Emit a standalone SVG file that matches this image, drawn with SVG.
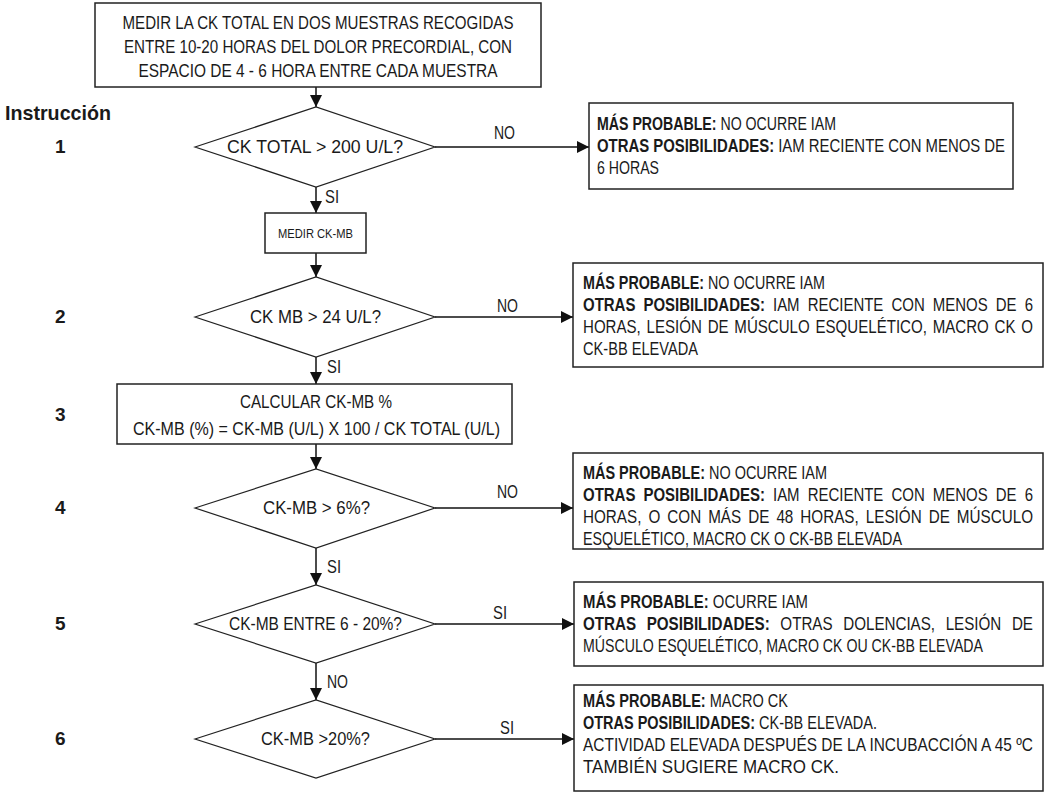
<svg xmlns="http://www.w3.org/2000/svg" width="1049" height="793" viewBox="0 0 1049 793">
<style>
.t{font-family:"Liberation Sans Narrow","Liberation Sans",Arial,sans-serif;font-size:19px;fill:#1a1a1a}
.c{text-anchor:middle}
.b{font-weight:bold}
.sm{font-size:13.5px}
.box{fill:#fff;stroke:#222;stroke-width:1.5}
.dia{fill:#fff;stroke:#222;stroke-width:1.2}
.ln{stroke:#111;stroke-width:1.5;fill:none}
</style>
<defs>
<marker id="ah" markerUnits="userSpaceOnUse" markerWidth="13" markerHeight="13" viewBox="0 0 13 13" refX="12" refY="6.5" orient="auto">
<path d="M0,0.5 L12,6.5 L0,12.5 z" fill="#111"/>
</marker>
</defs>
<rect width="1049" height="793" fill="#fff"/>

<g id="connectors">
<path class="ln" d="M316,87 V107" marker-end="url(#ah)"/>
<path class="ln" d="M316,187 V213" marker-end="url(#ah)"/>
<path class="ln" d="M316,253 V277" marker-end="url(#ah)"/>
<path class="ln" d="M316,357 V384" marker-end="url(#ah)"/>
<path class="ln" d="M316,444 V469" marker-end="url(#ah)"/>
<path class="ln" d="M316,548 V585" marker-end="url(#ah)"/>
<path class="ln" d="M316,663 V700" marker-end="url(#ah)"/>
<path class="ln" d="M435,147 H589" marker-end="url(#ah)"/>
<path class="ln" d="M435,317 H573" marker-end="url(#ah)"/>
<path class="ln" d="M435,508 H573" marker-end="url(#ah)"/>
<path class="ln" d="M435,624 H574" marker-end="url(#ah)"/>
<path class="ln" d="M435,739 H574" marker-end="url(#ah)"/>
<text class="t" x="325" y="203" textLength="14" lengthAdjust="spacingAndGlyphs">SI</text>
<text class="t" x="327" y="373" textLength="14" lengthAdjust="spacingAndGlyphs">SI</text>
<text class="t" x="327" y="573" textLength="14" lengthAdjust="spacingAndGlyphs">SI</text>
<text class="t" x="327" y="688" textLength="21" lengthAdjust="spacingAndGlyphs">NO</text>
<text class="t" x="494" y="139" textLength="21" lengthAdjust="spacingAndGlyphs">NO</text>
<text class="t" x="497" y="312" textLength="21" lengthAdjust="spacingAndGlyphs">NO</text>
<text class="t" x="497" y="498" textLength="21" lengthAdjust="spacingAndGlyphs">NO</text>
<text class="t" x="493" y="619" textLength="14" lengthAdjust="spacingAndGlyphs">SI</text>
<text class="t" x="500" y="734" textLength="14" lengthAdjust="spacingAndGlyphs">SI</text>
</g>

<g id="labels">
<text class="t b" x="5" y="120" style="font-size:21px" textLength="106" lengthAdjust="spacingAndGlyphs">Instrucción</text>
<text class="t b" x="55" y="153">1</text>
<text class="t b" x="55" y="323">2</text>
<text class="t b" x="55" y="421">3</text>
<text class="t b" x="55" y="514">4</text>
<text class="t b" x="55" y="630">5</text>
<text class="t b" x="55" y="745">6</text>
</g>

<g id="start">
<rect class="box" x="95" y="3" width="446" height="84"/>
<text class="t c" x="318" y="29" textLength="391" lengthAdjust="spacingAndGlyphs">MEDIR LA CK TOTAL EN DOS MUESTRAS RECOGIDAS</text>
<text class="t c" x="318" y="53" textLength="388" lengthAdjust="spacingAndGlyphs">ENTRE 10-20 HORAS DEL DOLOR PRECORDIAL, CON</text>
<text class="t c" x="318" y="77" textLength="359" lengthAdjust="spacingAndGlyphs">ESPACIO DE 4 - 6 HORA ENTRE CADA MUESTRA</text>
</g>

<g id="q1">
<polygon class="dia" points="195,147 316,107 435,147 316,187"/>
<text class="t c" x="315" y="153" textLength="176" lengthAdjust="spacingAndGlyphs">CK TOTAL &gt; 200 U/L?</text>
</g>

<g id="r1">
<rect class="box" x="589" y="103" width="424" height="86"/>
<text class="t" x="597" y="130" textLength="239" lengthAdjust="spacingAndGlyphs"><tspan class="b">MÁS PROBABLE:</tspan> NO OCURRE IAM</text>
<text class="t" x="597" y="152" textLength="408" lengthAdjust="spacingAndGlyphs"><tspan class="b">OTRAS POSIBILIDADES:</tspan> IAM RECIENTE CON MENOS DE</text>
<text class="t" x="597" y="174" textLength="62" lengthAdjust="spacingAndGlyphs">6 HORAS</text>
</g>

<g id="medir">
<rect class="box" x="265" y="213" width="101" height="40"/>
<text class="t c sm" x="315.5" y="238" textLength="75" lengthAdjust="spacingAndGlyphs">MEDIR CK-MB</text>
</g>

<g id="q2">
<polygon class="dia" points="195,317 316,277 435,317 316,357"/>
<text class="t c" x="315.5" y="323" textLength="131" lengthAdjust="spacingAndGlyphs">CK MB &gt; 24 U/L?</text>
</g>

<g id="r2">
<rect class="box" x="573" y="263" width="470" height="104"/>
<text class="t" x="583" y="289" textLength="242" lengthAdjust="spacingAndGlyphs"><tspan class="b">MÁS PROBABLE:</tspan> NO OCURRE IAM</text>
<text class="t" x="583" y="311" textLength="450" lengthAdjust="spacingAndGlyphs" word-spacing="5"><tspan class="b">OTRAS POSIBILIDADES:</tspan> IAM RECIENTE CON MENOS DE 6</text>
<text class="t" x="583" y="333" textLength="450" lengthAdjust="spacingAndGlyphs" word-spacing="2">HORAS, LESIÓN DE MÚSCULO ESQUELÉTICO, MACRO CK O</text>
<text class="t" x="583" y="355" textLength="115" lengthAdjust="spacingAndGlyphs">CK-BB ELEVADA</text>
</g>

<g id="calc">
<rect class="box" x="117" y="384" width="395" height="60"/>
<text class="t c" x="316" y="408" textLength="152" lengthAdjust="spacingAndGlyphs">CALCULAR CK-MB %</text>
<text class="t c" x="316.5" y="435" textLength="367" lengthAdjust="spacingAndGlyphs">CK-MB (%) = CK-MB (U/L) X 100 / CK TOTAL (U/L)</text>
</g>

<g id="q4">
<polygon class="dia" points="195,508 316,469 435,508 316,548"/>
<text class="t c" x="316.5" y="514" textLength="107" lengthAdjust="spacingAndGlyphs">CK-MB &gt; 6%?</text>
</g>

<g id="r4">
<rect class="box" x="573" y="453" width="470" height="96"/>
<text class="t" x="583" y="479" textLength="244" lengthAdjust="spacingAndGlyphs"><tspan class="b">MÁS PROBABLE:</tspan> NO OCURRE IAM</text>
<text class="t" x="583" y="501" textLength="450" lengthAdjust="spacingAndGlyphs" word-spacing="5"><tspan class="b">OTRAS POSIBILIDADES:</tspan> IAM RECIENTE CON MENOS DE 6</text>
<text class="t" x="583" y="523" textLength="450" lengthAdjust="spacingAndGlyphs" word-spacing="3.5">HORAS, O CON MÁS DE 48 HORAS, LESIÓN DE MÚSCULO</text>
<text class="t" x="583" y="545" textLength="319" lengthAdjust="spacingAndGlyphs">ESQUELÉTICO, MACRO CK O CK-BB ELEVADA</text>
</g>

<g id="q5">
<polygon class="dia" points="195,624 316,585 435,624 316,663"/>
<text class="t c" x="315.5" y="630" textLength="173" lengthAdjust="spacingAndGlyphs">CK-MB ENTRE 6 - 20%?</text>
</g>

<g id="r5">
<rect class="box" x="574" y="582" width="469" height="84"/>
<text class="t" x="583" y="608" textLength="225" lengthAdjust="spacingAndGlyphs"><tspan class="b">MÁS PROBABLE:</tspan> OCURRE IAM</text>
<text class="t" x="583" y="630" textLength="450" lengthAdjust="spacingAndGlyphs" word-spacing="8"><tspan class="b">OTRAS POSIBILIDADES:</tspan> OTRAS DOLENCIAS, LESIÓN DE</text>
<text class="t" x="583" y="652" textLength="400" lengthAdjust="spacingAndGlyphs">MÚSCULO ESQUELÉTICO, MACRO CK OU CK-BB ELEVADA</text>
</g>

<g id="q6">
<polygon class="dia" points="195,739 316,700 435,739 316,778"/>
<text class="t c" x="315.5" y="745" textLength="109" lengthAdjust="spacingAndGlyphs">CK-MB &gt;20%?</text>
</g>

<g id="r6">
<rect class="box" x="574" y="685" width="469" height="106"/>
<text class="t" x="583" y="707" textLength="205" lengthAdjust="spacingAndGlyphs"><tspan class="b">MÁS PROBABLE:</tspan> MACRO CK</text>
<text class="t" x="583" y="729" textLength="294" lengthAdjust="spacingAndGlyphs"><tspan class="b">OTRAS POSIBILIDADES:</tspan> CK-BB ELEVADA.</text>
<text class="t" x="583" y="751" textLength="450" lengthAdjust="spacingAndGlyphs">ACTIVIDAD ELEVADA DESPUÉS DE LA INCUBACCIÓN A 45 ºC</text>
<text class="t" x="583" y="773" textLength="256" lengthAdjust="spacingAndGlyphs">TAMBIÉN SUGIERE MACRO CK.</text>
</g>
</svg>
